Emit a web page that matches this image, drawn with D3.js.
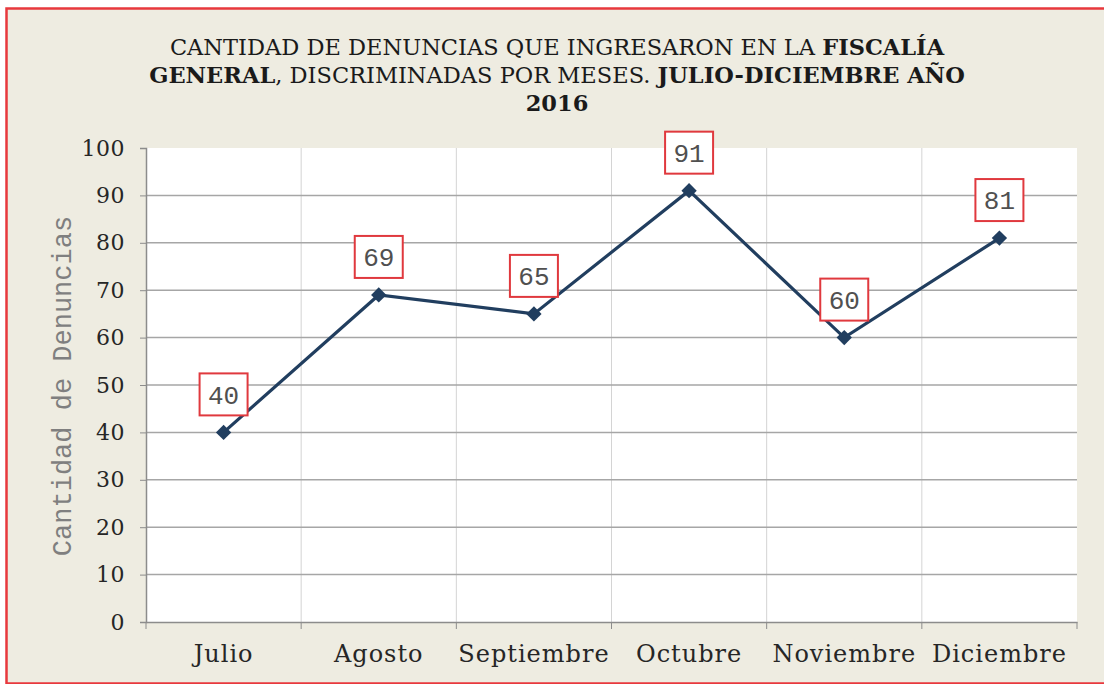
<!DOCTYPE html>
<html>
<head>
<meta charset="utf-8">
<script src="https://cdn.jsdelivr.net/npm/d3@7"></script>
<style>
  html, body { margin: 0; padding: 0; background: #fff; }
  svg { display: block; }
</style>
</head>
<body>
<div id="chart-container"></div>
<script>
// datos del gráfico
const meses = ["Julio", "Agosto", "Septiembre", "Octubre", "Noviembre", "Diciembre"];
const denuncias = [40, 69, 65, 91, 60, 81];
const yTicks = [0, 10, 20, 30, 40, 50, 60, 70, 80, 90, 100];
const tituloLineas = [
    [["CANTIDAD DE DENUNCIAS QUE INGRESARON EN LA ", false], ["FISCALÍA", true]],
    [["GENERAL", true], [", DISCRIMINADAS POR MESES. ", false], ["JULIO-DICIEMBRE AÑO", true]],
    [["2016", true]]
];
const ejeY = "Cantidad de Denuncias";

const W = 1104, H = 684;
const margin = { top: 148, right: 27, bottom: 62, left: 146 };
const width = W - margin.left - margin.right, height = H - margin.top - margin.bottom;
const serif = "'DejaVu Serif', serif";
const mono = "'Liberation Mono', 'Courier New', monospace";

const root = d3.select("#chart-container")
    .append("svg")
    .attr("width", W)
    .attr("height", H);

// fondo y borde
root.append("rect").attr("width", W).attr("height", H).attr("fill", "#fff");
root.append("rect")
    .attr("x", 6.5).attr("y", 8.5).attr("width", W + 20).attr("height", 675)
    .attr("fill", "#EEECE1")
    .attr("stroke", "#E8383D").attr("stroke-width", 2.5);

// título
const title = root.append("text")
    .attr("text-anchor", "middle")
    .style("font-family", serif)
    .style("font-size", "22.5px")
    .attr("fill", "#1a1a1a");
tituloLineas.forEach((linea, i) => {
    linea.forEach((parte, j) => {
        const t = title.append("tspan").text(parte[0])
            .style("font-weight", parte[1] ? "bold" : "normal");
        if (j === 0) t.attr("x", 557).attr("y", 55 + i * 28);
    });
});

const svg = root.append("g")
    .attr("transform", `translate(${margin.left}, ${margin.top})`);

const x = d3.scaleBand().domain(meses).range([0, width]);
const y = d3.scaleLinear().domain([0, 100]).range([height, 0]);

svg.append("rect").attr("width", width).attr("height", height).attr("fill", "#fff");

// rejilla
svg.selectAll(".vgrid")
    .data(meses.slice(1))
    .enter()
    .append("line")
    .attr("x1", d => x(d)).attr("x2", d => x(d))
    .attr("y1", 0).attr("y2", height)
    .attr("stroke", "#d4d4d4").attr("stroke-width", 1);

svg.selectAll(".hgrid")
    .data(yTicks.filter(d => d > 0 && d < 100))
    .enter()
    .append("line")
    .attr("x1", 0).attr("x2", width)
    .attr("y1", d => y(d)).attr("y2", d => y(d))
    .attr("stroke", "#a6a6a6").attr("stroke-width", 1.5);

// ejes
const yAxis = svg.append("g")
    .call(d3.axisLeft(y).tickValues(yTicks).tickSize(6).tickPadding(15));
const xAxis = svg.append("g")
    .attr("transform", `translate(0, ${height})`)
    .call(d3.axisBottom(x).tickSize(0).tickPadding(23));

[yAxis, xAxis].forEach(ax => {
    ax.select(".domain").attr("stroke", "#8c8c8c").attr("stroke-width", 1.5);
    ax.selectAll(".tick line").attr("stroke", "#8c8c8c");
    ax.selectAll("text")
        .style("font-family", serif)
        .attr("fill", "#262626");
});
yAxis.selectAll("text").style("font-size", "22px").style("letter-spacing", "0.5px");
xAxis.selectAll("text").style("font-size", "24px").style("letter-spacing", "1px");

// marcas de categoría en el eje x
svg.selectAll(".xtick")
    .data(meses.concat(["fin"]))
    .enter()
    .append("line")
    .attr("x1", (d, i) => i * x.step()).attr("x2", (d, i) => i * x.step())
    .attr("y1", height).attr("y2", height + 7)
    .attr("stroke", "#8c8c8c");

// título eje y
svg.append("text")
    .attr("transform", `translate(${62 - margin.left}, ${386 - margin.top}) rotate(-90)`)
    .attr("text-anchor", "middle")
    .attr("dy", "0.35em")
    .style("font-family", mono)
    .style("font-size", "27px")
    .attr("fill", "#7f7f7f")
    .text(ejeY);

// línea y marcadores
const data = meses.map((m, i) => ({ mes: m, valor: denuncias[i] }));
const cx = d => x(d.mes) + x.bandwidth() / 2;

svg.append("path")
    .datum(data)
    .attr("fill", "none")
    .attr("stroke", "#213E5F")
    .attr("stroke-width", 3.2)
    .attr("d", d3.line().x(cx).y(d => y(d.valor)));

svg.selectAll(".marker")
    .data(data)
    .enter()
    .append("path")
    .attr("d", d3.symbol().type(d3.symbolDiamond2).size(150))
    .attr("transform", d => `translate(${cx(d)}, ${y(d.valor)})`)
    .attr("fill", "#213E5F");

// etiquetas de datos
const etiquetas = svg.selectAll(".label")
    .data(data)
    .enter()
    .append("g")
    .attr("transform", d => `translate(${cx(d)}, ${y(d.valor) - 38})`);

etiquetas.append("rect")
    .attr("x", -24).attr("y", -21).attr("width", 48).attr("height", 42)
    .attr("fill", "#fff")
    .attr("stroke", "#E0393E").attr("stroke-width", 2);

etiquetas.append("text")
    .attr("text-anchor", "middle")
    .attr("dy", "0.36em")
    .style("font-family", mono)
    .style("font-size", "26px")
    .attr("fill", "#505050")
    .text(d => d.valor);
</script>
</body>
</html>
